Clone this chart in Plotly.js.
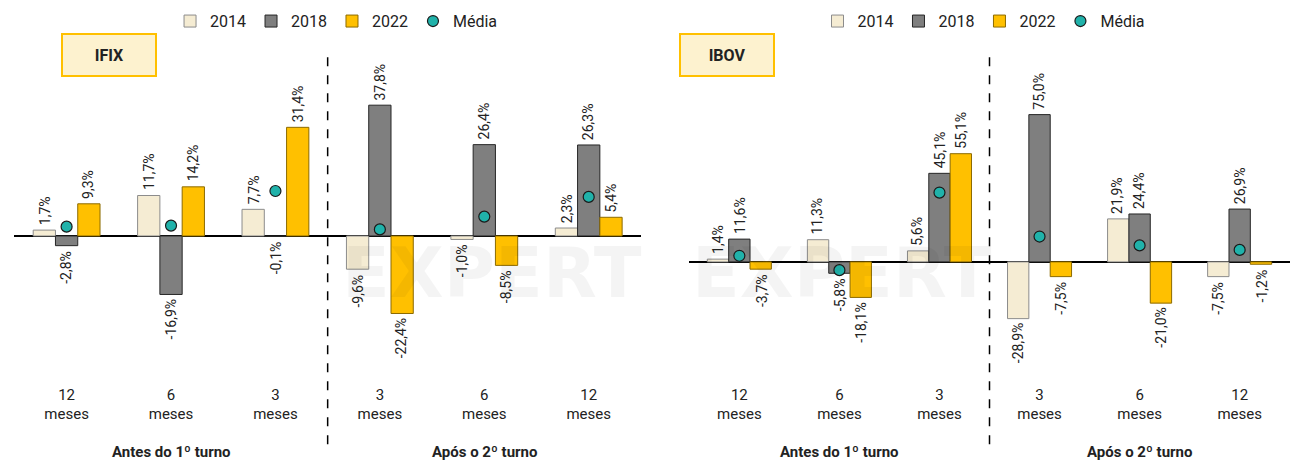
<!DOCTYPE html>
<html><head><meta charset="utf-8">
<script src="https://cdn.plot.ly/plotly-3.0.1.min.js"></script>
<style>body{margin:0;background:#fff}</style></head>
<body><div id="chart" style="width:1308px;height:470px"></div>
<script>
const cats = ["12a", "6a", "3a", "3d", "6d", "12d"];
const catLabels = ["12<br>meses", "6<br>meses", "3<br>meses", "3<br>meses", "6<br>meses", "12<br>meses"];
const years = ["2014", "2018", "2022"];

const ifix2014 = [1.7, 11.7, 7.7, -9.6, -1.0, 2.3];
const ifix2018 = [-2.8, -16.9, -0.1, 37.8, 26.4, 26.3];
const ifix2022 = [9.3, 14.2, 31.4, -22.4, -8.5, 5.4];
const ifixMedia = [2.7, 3.0, 13.0, 1.9, 5.6, 11.3];

const ibov2014 = [1.4, 11.3, 5.6, -28.9, 21.9, -7.5];
const ibov2018 = [11.6, -5.8, 45.1, 75.0, 24.4, 26.9];
const ibov2022 = [-3.7, -18.1, 55.1, -7.5, -21.0, -1.2];
const ibovMedia = [3.1, -4.2, 35.3, 12.9, 8.4, 6.1];

const fills = ["#f5ecd3", "#7f7f7f", "#ffc000"];
const lines = ["#8c8c8c", "#262626", "#8c6a00"];
const fmt = v => v.toFixed(1).replace(".", ",") + "%";
const shifts = [-22, 0, 22];

function series(sets, media, xa, ya, lg) {
  const out = sets.map((vals, i) => ({
    type: "bar", x: cats, y: vals, name: years[i], xaxis: xa, yaxis: ya, legend: lg,
    marker: {color: fills[i], line: {color: lines[i], width: 1}}
  }));
  out.push({
    type: "scatter", mode: "markers", x: cats, y: media, name: "Média", xaxis: xa, yaxis: ya, legend: lg,
    marker: {color: "#20b2aa", size: 11, line: {color: "#1a1a1a", width: 1.2}}
  });
  return out;
}
function labels(sets, xa, ya) {
  const out = [];
  sets.forEach((vals, i) => vals.forEach((v, j) => out.push({
    text: fmt(v), x: cats[j], y: v, xref: xa, yref: ya, xshift: shifts[i],
    yanchor: v >= 0 ? "bottom" : "top", yshift: v >= 0 ? 3 : -3, textangle: -90,
    showarrow: false, font: {family: "Roboto", size: 14, color: "#222"}
  })));
  return out;
}

const data = [
  ...series([ifix2014, ifix2018, ifix2022], ifixMedia, "x", "y", "legend"),
  ...series([ibov2014, ibov2018, ibov2022], ibovMedia, "x2", "y2", "legend2")
];

const xbase = {type: "category", tickvals: cats, ticktext: catLabels, showgrid: false, ticks: "",
  tickfont: {family: "Roboto", size: 15, color: "#222"}, showline: false, fixedrange: true, ticklabelstandoff: 14};
const ybase = {showgrid: false, showticklabels: false, zeroline: true, zerolinecolor: "#000",
  zerolinewidth: 1.5, domain: [0.213, 0.894]};
const lgbase = {orientation: "h", yanchor: "middle", y: 0.955, font: {family: "Roboto", size: 16, color: "#222"},
  bgcolor: "rgba(0,0,0,0)", itemwidth: 30, tracegroupgap: 0};

function boxTitle(t, x) {
  return {text: "<b>" + t + "</b>", xref: "paper", yref: "paper", x: x, y: 0.93, showarrow: false,
    font: {family: "Roboto", size: 16, color: "#222"}, bgcolor: "#fdf2cf", bordercolor: "#ffc000",
    borderwidth: 2, borderpad: 10, width: 72, height: 20};
}
function group(t, x, xr) {
  return {text: "<b>" + t + "</b>", xref: xr, yref: "paper", x: x, y: 0.015, showarrow: false,
    font: {family: "Roboto", size: 15, color: "#222"}};
}
function mark(x) {
  return {text: "<b>EXPERT</b>", xref: "paper", yref: "paper", x: x, y: 0.42, showarrow: false,
    font: {family: "DejaVu Sans", size: 70, color: "rgba(0,0,0,0.045)"}};
}

const layout = {
  width: 1308, height: 470, margin: {l: 0, r: 0, t: 0, b: 0},
  paper_bgcolor: "#fff", plot_bgcolor: "#fff", barmode: "group", bargap: 0.36, bargroupgap: 0,
  xaxis: Object.assign({}, xbase, {domain: [0.011, 0.49], anchor: "y"}),
  yaxis: Object.assign({}, ybase, {range: [-38.7, 53.8], anchor: "x"}),
  xaxis2: Object.assign({}, xbase, {domain: [0.527, 0.986], anchor: "y2"}),
  yaxis2: Object.assign({}, ybase, {range: [-55, 108], anchor: "x2"}),
  legend: Object.assign({}, lgbase, {x: 0.13}),
  legend2: Object.assign({}, lgbase, {x: 0.625}),
  shapes: [
    {type: "line", xref: "x", yref: "paper", x0: 2.5, x1: 2.5, y0: 0.055, y1: 0.88, line: {color: "#000", width: 1.5, dash: "dash"}},
    {type: "line", xref: "x2", yref: "paper", x0: 2.5, x1: 2.5, y0: 0.055, y1: 0.88, line: {color: "#000", width: 1.5, dash: "dash"}}
  ],
  annotations: [
    mark(0.26), mark(0.76),
    boxTitle("IFIX", 0.047), boxTitle("IBOV", 0.556),
    group("Antes do 1º turno", 1, "x"), group("Após o 2º turno", 4, "x"),
    group("Antes do 1º turno", 1, "x2"), group("Após o 2º turno", 4, "x2"),
    ...labels([ifix2014, ifix2018, ifix2022], "x", "y"),
    ...labels([ibov2014, ibov2018, ibov2022], "x2", "y2")
  ]
};

Plotly.newPlot("chart", data, layout, {displayModeBar: false, staticPlot: true});
</script></body></html>
